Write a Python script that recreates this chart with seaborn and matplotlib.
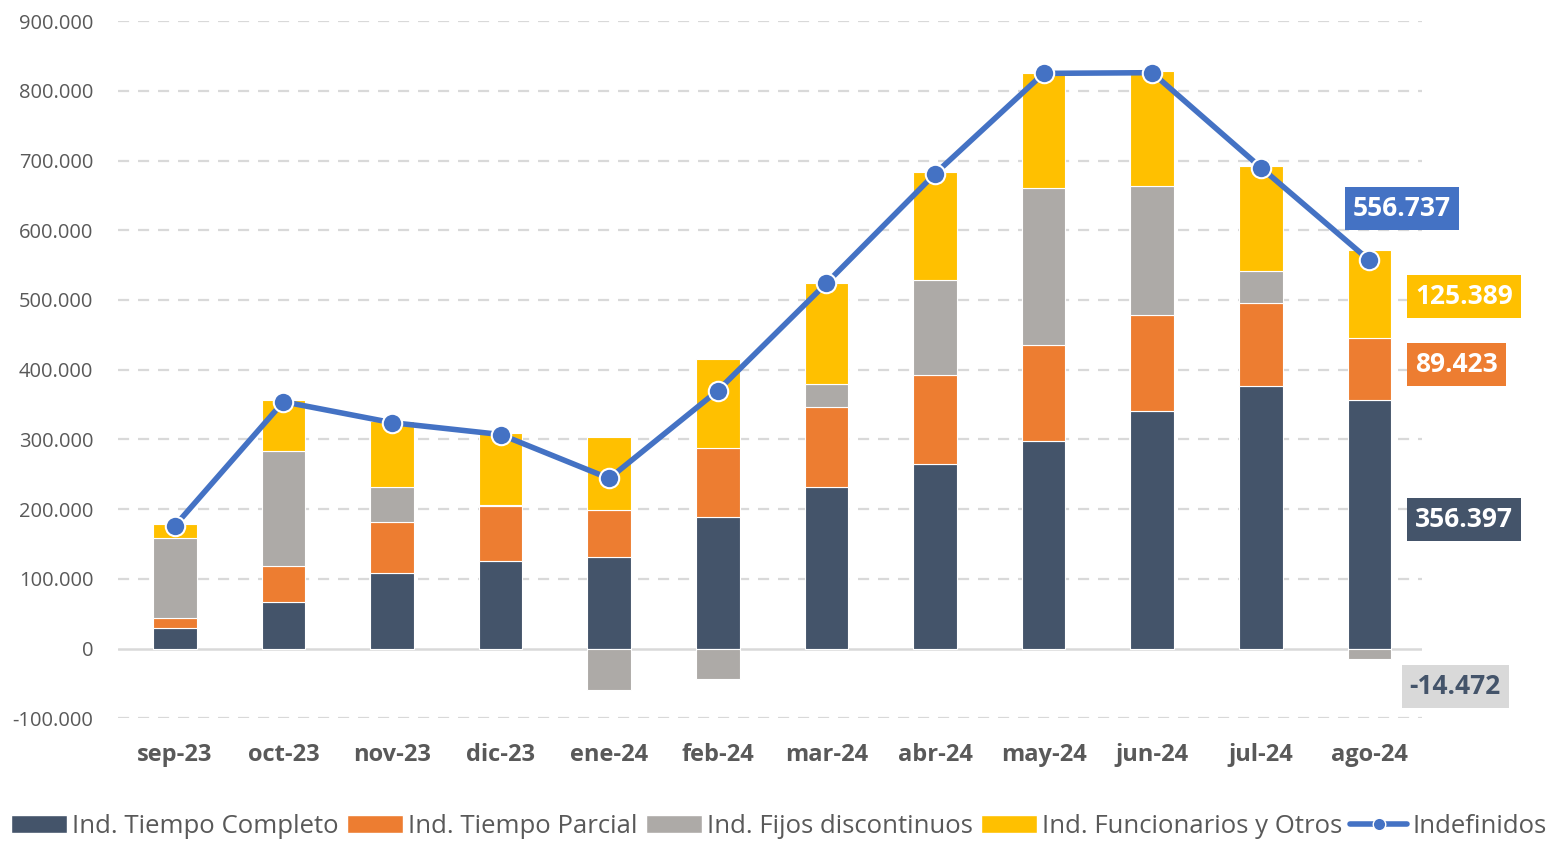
import matplotlib
matplotlib.use("Agg")
import matplotlib.pyplot as plt
import matplotlib.ticker as mticker
from matplotlib.patches import Patch
from matplotlib.lines import Line2D
import numpy as np
import seaborn as sns

months = ["sep-23", "oct-23", "nov-23", "dic-23", "ene-24", "feb-24",
          "mar-24", "abr-24", "may-24", "jun-24", "jul-24", "ago-24"]
completo = [30, 67, 108, 125, 131, 189, 231, 264, 297, 341, 376, 356.397]
parcial = [14, 52, 74, 79, 68, 98, 116, 128, 138, 137, 119, 89.423]
fijos = [114, 165, 50, 1.5, -59, -44, 33, 137, 226, 186, 47, -14.472]
funcionarios = [20, 72, 95, 103, 105, 128, 145, 154, 165, 164, 150, 125.389]
indefinidos = [176, 354, 324, 307, 244, 370, 524, 681, 825, 826, 690, 556.737]

names = ["Ind. Tiempo Completo", "Ind. Tiempo Parcial", "Ind. Fijos discontinuos",
         "Ind. Funcionarios y Otros", "Indefinidos"]
colors = ["#44546A", "#ED7D31", "#ADAAA7", "#FFC000", "#4472C4"]

c = np.array(completo) * 1000
p = np.array(parcial) * 1000
f = np.array(fijos) * 1000
u = np.array(funcionarios) * 1000
tot = np.array(indefinidos) * 1000

sns.set_theme(style="white")
plt.rcParams["font.family"] = ["Open Sans", "DejaVu Sans"]

fig = plt.figure(figsize=(15.57, 8.44), dpi=100)
ax = fig.add_axes([0.076, 0.149, 0.837, 0.826])

grey_txt = "#595959"
for v in range(-100000, 900001, 100000):
    if v != 0:
        ax.axhline(v, color="#D9D9D9", lw=1.6, ls=(0, (5, 4)), zorder=0)
ax.axhline(0, color="#D9D9D9", lw=1.8, zorder=0.5)

w = 0.4
kw = dict(width=w, edgecolor="white", linewidth=0.8, zorder=2, saturation=1)
sns.barplot(x=months, y=c, color=colors[0], ax=ax, **kw)
sns.barplot(x=months, y=p, bottom=c, color=colors[1], ax=ax, **kw)
fb = np.where(f > 0, c + p, 0)
sns.barplot(x=months, y=f, bottom=fb, color=colors[2], ax=ax, **kw)
ub = c + p + np.clip(f, 0, None)
sns.barplot(x=months, y=u, bottom=ub, color=colors[3], ax=ax, **kw)

xs = np.arange(len(months))
sns.lineplot(x=xs, y=tot, color=colors[4], lw=4, marker="o", markersize=14,
             markeredgecolor="white", markeredgewidth=1.5, ax=ax, zorder=5)

ax.set_xlim(-0.52, 11.48)
ax.set_ylim(-100000, 900000)
ax.set_yticks(range(-100000, 900001, 100000))
ax.yaxis.set_major_formatter(mticker.FuncFormatter(
    lambda v, _: "0" if v == 0 else f"{v:,.0f}".replace(",", ".")))
ax.set_xticks(xs)
ax.set_xticklabels(months, fontsize=17, fontweight="bold", color=grey_txt)
ax.tick_params(axis="y", labelsize=14.5, labelcolor=grey_txt, length=0, pad=18)
ax.tick_params(axis="x", length=0, pad=18)
for s in ax.spines.values():
    s.set_visible(False)
ax.set_xlabel("")
ax.set_ylabel("")

# etiquetas del último mes
i = len(months) - 1
def fmt(v):
    return f"{v:,.0f}".replace(",", ".")

def box(x, y, val, fc, tc="white"):
    ax.text(x, y, fmt(val), fontsize=19, fontweight="bold", color=tc,
            ha="left", va="center", zorder=6, clip_on=False,
            bbox=dict(boxstyle="square,pad=0.3", fc=fc, ec="none"))

box(i + 0.42, c[i] / 2 + 7000, c[i], colors[0])
box(i + 0.42, c[i] + p[i] / 2 + 6000, p[i], colors[1])
box(i + 0.42, ub[i] + u[i] / 2 - 4000, u[i], colors[3])
box(i + 0.37, f[i] - 40000, f[i], "#D9D9D9", "#44546A")
box(i - 0.15, tot[i] + 75000, tot[i], colors[4])

handles = [Patch(fc=colors[k], ec="white") for k in range(4)]
handles.append(Line2D([0], [0], color=colors[4], lw=4, marker="o", markersize=9,
                      markeredgecolor="white"))
fig.legend(handles, names, loc="lower center", bbox_to_anchor=(0.5, -0.022),
           ncol=5, frameon=False, handlelength=2.2, handleheight=0.7,
           columnspacing=0.3, handletextpad=0.2,
           prop=dict(size=18.5), labelcolor=grey_txt)

fig.savefig("out.png", dpi=100)
